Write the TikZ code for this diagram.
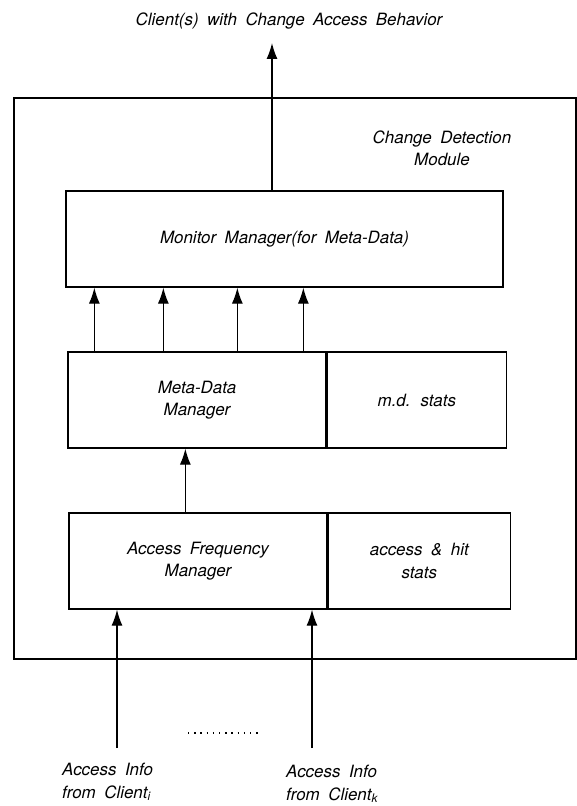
\documentclass[tikz,border=0pt]{standalone}
\usepackage{fontspec}
\newfontfamily\helv{TeX Gyre Heros}
\usetikzlibrary{arrows.meta,positioning}

\newcommand{\grundschrift}{\fontsize{17}{22.5}\helv\itshape\spaceskip=0.5em\relax}

\tikzset{
  kasten/.style={draw, line width=1.3bp, minimum height=96bp, inner sep=0pt, align=center},
  pfeil/.style={-{Latex[length=16bp,width=11bp]}, line width=1.3bp},
  beschriftung/.style={align=left, inner sep=0pt}
}

\begin{document}
\begin{tikzpicture}
		[
		x=1bp, y=-1bp,
		font=\grundschrift
		%Grundschrift fuer alle Texte
		]
		
		%Rahmen des Bildes
		\useasboundingbox (0,0) rectangle (577,806);
		
		%Modul aussen
		\node[draw, line width=1.3bp, minimum width=562bp, minimum height=561bp, inner sep=0pt] (modul) at (295,378.5) {};
		\node[align=center, inner sep=0pt] (modulname) at (442,148.5) {Change Detection\\Module};
		
		%Ziel oben
		\node[inner sep=0pt] (titel) at (289,21) {Client(s) with Change Access Behavior};
		\coordinate (aus) at (272,43);
		
		%Monitor Manager
		\node[kasten, minimum width=437bp] (monitor) at (284.5,239) {Monitor Manager(for Meta-Data)};
		
		%Meta-Data Manager mit Statistik
		\node[kasten, minimum width=258bp] (meta) at (197,400) {Meta-Data\\Manager};
		\node[kasten, minimum width=179bp, right=0pt of meta] (mdstats) {m.d. stats};
		
		%Access Frequency Manager mit Statistik
		\node[kasten, minimum width=258bp] (afm) at (198,561) {Access Frequency\\Manager};
		\node[kasten, minimum width=182bp, right=0pt of afm] (hitstats) {access \& hit\\stats};
		
		%Pfeil nach oben aus dem Modul
		\draw[pfeil] (monitor.north -| aus) -- (aus);
		
		%Pfeile Meta-Data -> Monitor
		\foreach \d [count=\i] in {27,96,170,236}
		{
			\coordinate (m\i) at ([xshift=\d bp]meta.north west);
			\draw[pfeil] (m\i) -- (m\i |- monitor.south);
		}
		
		%Pfeil Access Frequency -> Meta-Data
		\coordinate (k) at ([xshift=117bp]afm.north west);
		\draw[pfeil] (k) -- (k |- meta.south);
		
		%Eingaenge von den Clients
		\coordinate (ein1) at (117,748);
		\coordinate (ein2) at (312,748);
		\draw[pfeil] (ein1) -- (ein1 |- afm.south);
		\draw[pfeil] (ein2) -- (ein2 |- afm.south);
		
		%Punkte zwischen den Clients
		\draw[line width=1.3bp, dash pattern=on 1.3bp off 4.9bp] (188,733) -- (261,733);
		
		%Texte unten
		\node[beschriftung, anchor=north west] (client1) at (62,763) {Access Info\\from Client\textsubscript{\itshape i}};
		\node[beschriftung, anchor=north west] (client2) at (286,765) {Access Info\\from Client\textsubscript{\itshape k}};
	\end{tikzpicture}
\end{document}
